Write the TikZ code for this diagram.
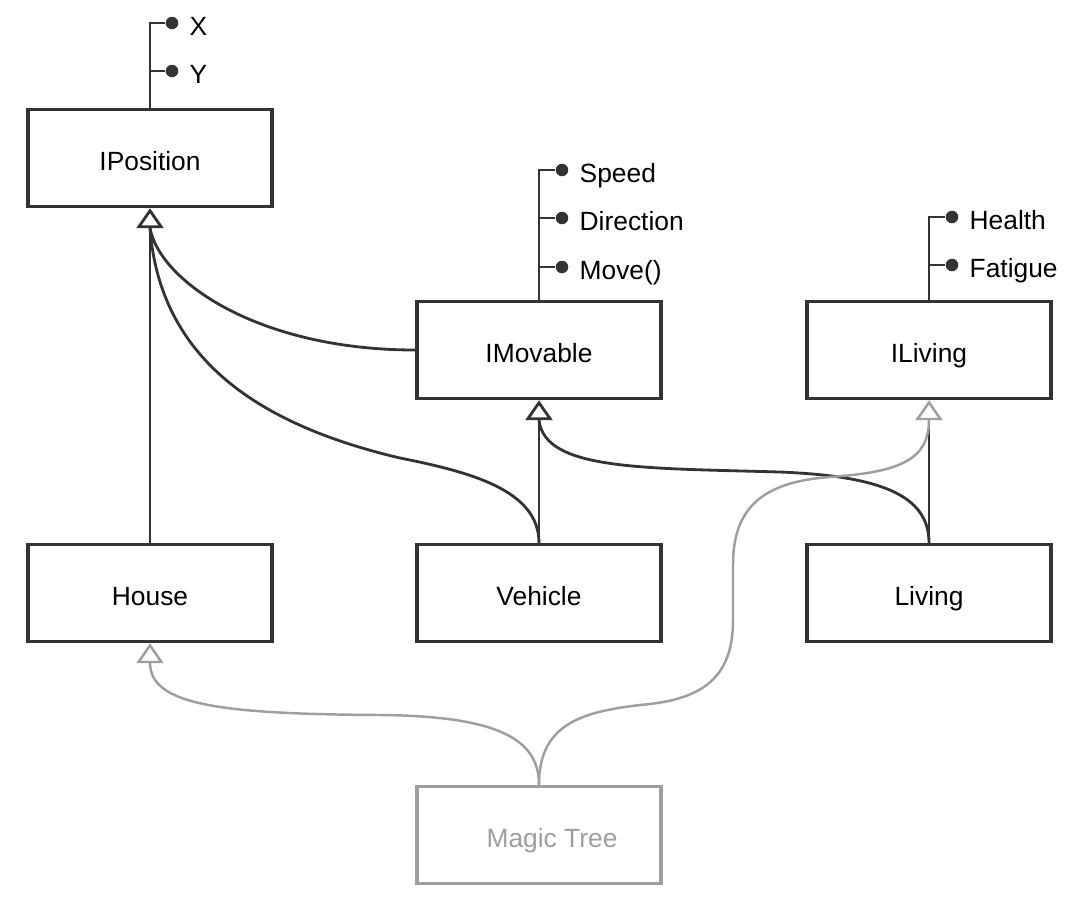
\documentclass[tikz,border=0pt]{standalone}
\usepackage{fontspec}
\setmainfont{Liberation Sans}
\usepackage{xcolor}
\usetikzlibrary{arrows.meta,positioning}
\definecolor{ink}{gray}{0.2}
\definecolor{faded}{gray}{0.62}

\begin{document}
\begin{tikzpicture}[x=0.01cm, y=-0.01cm, >=Latex, every node/.style={font=\fontsize{7.5}{9}\selectfont}]
\tikzstyle{cls}=[draw=ink, line width=0.95pt, minimum width=2.44cm, minimum height=0.97cm, text height=0.72em, text depth=0pt]
\tikzstyle{attrdot}=[circle, fill=ink, inner sep=0pt, minimum size=0.125cm]
\tikzstyle{attr}=[inner sep=0pt, text height=0.72em, text depth=0pt, anchor=west]
\tikzstyle{wire}=[draw=ink, line width=0.8pt]
\tikzstyle{inh}=[wire, -{Triangle[open, length=0.2cm, width=0.27cm]}]
\tikzstyle{ghost}=[draw=faded, line width=0.7pt, -{Triangle[open, length=0.2cm, width=0.27cm]}]
\useasboundingbox (0,0) rectangle (1075,911);
% classes
\node[cls] (IPosition) at (150,158) {IPosition};
\node[cls] (IMovable) at (539,350) {IMovable};
\node[cls] (ILiving) at (929,350) {ILiving};
\node[cls] (House) at (150,593) {House};
\node[cls] (Vehicle) at (539,593) {Vehicle};
\node[cls] (Living) at (929,593) {Living};
\node[cls, draw=faded, text=faded] (MagicTree) at (539,835) {\hspace*{0.26cm}Magic Tree};
\coordinate (ipBase) at ([yshift=-0.2cm]IPosition.south);
\coordinate (imBase) at ([yshift=-0.2cm]IMovable.south);
\coordinate (ilBase) at ([yshift=-0.2cm]ILiving.south);
% members
\node[attrdot] (dX) at (172,23) {};
\node[attr, right=0.1cm of dX] (lX) {X};
\node[attrdot] (dY) at (172,71) {};
\node[attr, right=0.1cm of dY] (lY) {Y};
\node[attrdot] (dSpeed) at (562,170) {};
\node[attr, right=0.1cm of dSpeed] (lSpeed) {Speed};
\node[attrdot] (dDirection) at (562,218) {};
\node[attr, right=0.1cm of dDirection] (lDirection) {Direction};
\node[attrdot] (dMove) at (562,267) {};
\node[attr, right=0.1cm of dMove] (lMove) {Move()};
\node[attrdot] (dHealth) at (952,217) {};
\node[attr, right=0.1cm of dHealth] (lHealth) {Health};
\node[attrdot] (dFatigue) at (952,265) {};
\node[attr, right=0.1cm of dFatigue] (lFatigue) {Fatigue};
\draw[wire] (IPosition.north) |- (dX);
\draw[wire] (IPosition.north) |- (dY);
\draw[wire] (IMovable.north) |- (dSpeed);
\draw[wire] (IMovable.north) |- (dDirection);
\draw[wire] (IMovable.north) |- (dMove);
\draw[wire] (ILiving.north) |- (dHealth);
\draw[wire] (ILiving.north) |- (dFatigue);
% inheritance
\draw[inh] (House.north) -- (IPosition.south);
\draw[wire] (IMovable.west) .. controls +(-157,0) and +(10,53) .. (ipBase);
\draw[wire] (Vehicle.north) .. controls (539,490) and (470,472) .. (400,458) .. controls (260,425) and (160,360) .. (ipBase);
\draw[inh] (Vehicle.north) -- (IMovable.south);
\draw[wire] (Living.north) .. controls (929,495) and (880,476) .. (780,472) .. controls (640,468) and (545,470) .. (imBase);
\draw[wire, line width=0.55pt] (Living.north) -- (ilBase);
\draw[ghost] (MagicTree.north) .. controls (539,740) and (500,716) .. (380,715) .. controls (220,714) and (150,705) .. (House.south);
\draw[ghost] (MagicTree.north) .. controls (539,725) and (580,712) .. (640,705) .. controls (700,700) and (733,680) .. (733,620) -- (733,565) .. controls (733,510) and (760,482) .. (830,477) .. controls (900,472) and (929,460) .. (ILiving.south);
\end{tikzpicture}
\end{document}
